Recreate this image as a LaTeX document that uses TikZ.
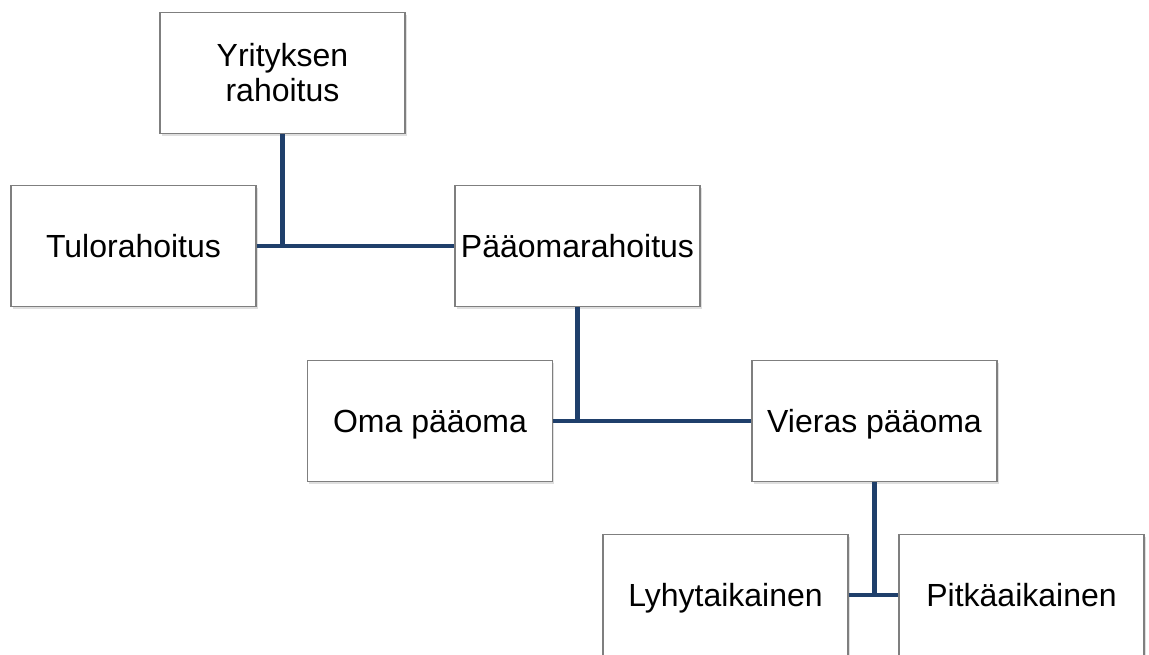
\documentclass[tikz,border=0pt]{standalone}
\usepackage{fontspec}
\setmainfont{Liberation Sans}
\usetikzlibrary{shadows}
\definecolor{linkblue}{HTML}{1F3F6B}
\definecolor{boxgray}{HTML}{7F7F7F}
\tikzset{
  orgbox/.style={draw=boxgray, line width=1.3pt, fill=white, minimum width=245pt, minimum height=121pt,
    inner sep=0pt, align=center, font=\fontsize{32}{35}\selectfont,
    drop shadow={opacity=0.25, shadow xshift=1.5pt, shadow yshift=-2.5pt}},
  oneline/.style={text height=23pt, text depth=0pt},
  link/.style={draw=linkblue, line width=4.5pt}
}
\begin{document}
\begin{tikzpicture}[x=1pt, y=-1pt]
\useasboundingbox (0,0) rectangle (1149,655);
\clip (0,0) rectangle (1149,655);
\node[orgbox] (yr) at (282.5,73) {Yrityksen\\rahoitus};
\node[orgbox, oneline] (tu) at (133.5,246) {Tulorahoitus};
\node[orgbox, oneline] (pa) at (577.5,246) {Pääomarahoitus};
\node[orgbox, oneline] (om) at (430,421) {Oma pääoma};
\node[orgbox, oneline] (vi) at (874.5,421) {Vieras pääoma};
\node[orgbox, oneline] (ly) at (725.5,595) {Lyhytaikainen};
\node[orgbox, oneline] (pi) at (1021.5,595) {Pitkäaikainen};
\draw[link] (yr.south) -- (yr.south |- tu.east);
\draw[link] (tu.east) -- (pa.west);
\draw[link] (pa.south) -- (pa.south |- om.east);
\draw[link] (om.east) -- (vi.west);
\draw[link] (vi.south) -- (vi.south |- ly.east);
\draw[link] (ly.east) -- (pi.west);
\end{tikzpicture}
\end{document}
